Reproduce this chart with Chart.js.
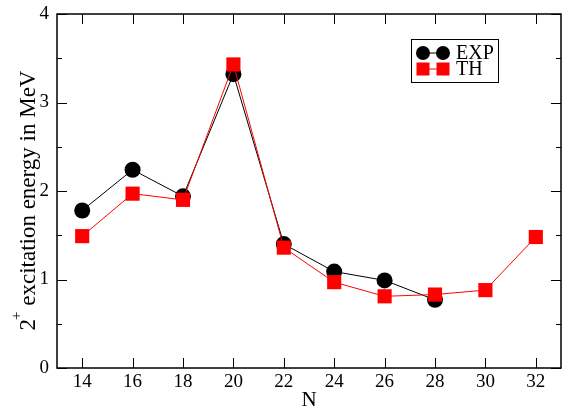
<!DOCTYPE html>
<html>
<head>
<meta charset="utf-8">
<script src="https://cdn.jsdelivr.net/npm/chart.js@4"></script>
<style>
  html, body { margin: 0; padding: 0; background: #fff; }
  #wrap { width: 562px; height: 406px; }
</style>
</head>
<body>
<div id="wrap"><canvas id="chart" width="562" height="406"></canvas></div>
<script>
  // neutron number N
  const nExp = [14, 16, 18, 20, 22, 24, 26, 28];
  const eExp = [1.78, 2.24, 1.94, 3.32, 1.40, 1.09, 0.99, 0.77];
  const nTh = [14, 16, 18, 20, 22, 24, 26, 28, 30, 32];
  const eTh = [1.49, 1.97, 1.90, 3.43, 1.36, 0.97, 0.81, 0.83, 0.88, 1.48];
  const xTicks = [14, 16, 18, 20, 22, 24, 26, 28, 30, 32];
  const yTicks = [0, 1, 2, 3, 4];
  const yMinor = [0.5, 1.5, 2.5, 3.5];

  const FONT = '"Liberation Serif", "Times New Roman", serif';
  const pts = (xs, ys) => xs.map((x, i) => ({ x, y: ys[i] }));

  // frame, inward ticks, titles, legend
  const decor = {
    id: 'decor',
    afterDraw(chart) {
      const { ctx, chartArea: a, scales: { x, y } } = chart;
      ctx.save();
      ctx.strokeStyle = '#000';
      ctx.lineWidth = 1.5;
      ctx.strokeRect(a.left, a.top, a.right - a.left, a.bottom - a.top);

      ctx.lineWidth = 1;
      ctx.beginPath();
      for (const v of xTicks) {
        const px = Math.round(x.getPixelForValue(v)) + 0.5;
        ctx.moveTo(px, a.bottom); ctx.lineTo(px, a.bottom - 10);
        ctx.moveTo(px, a.top); ctx.lineTo(px, a.top + 10);
      }
      for (const v of yTicks) {
        const py = Math.round(y.getPixelForValue(v)) + 0.5;
        ctx.moveTo(a.left, py); ctx.lineTo(a.left + 10, py);
        ctx.moveTo(a.right, py); ctx.lineTo(a.right - 10, py);
      }
      for (const v of yMinor) {
        const py = Math.round(y.getPixelForValue(v)) + 0.5;
        ctx.moveTo(a.left, py); ctx.lineTo(a.left + 5, py);
        ctx.moveTo(a.right, py); ctx.lineTo(a.right - 5, py);
      }
      ctx.stroke();

      // axis titles
      ctx.fillStyle = '#000';
      ctx.font = '21px ' + FONT;
      ctx.textAlign = 'center';
      ctx.textBaseline = 'alphabetic';
      ctx.fillText('N', (a.left + a.right) / 2, 406);

      ctx.save();
      ctx.translate(35, 200);
      ctx.rotate(-Math.PI / 2);
      const main = ' excitation energy in MeV';
      ctx.font = '23px ' + FONT;
      const w2 = ctx.measureText('2').width;
      const wm = ctx.measureText(main).width;
      ctx.font = '15px ' + FONT;
      const wp = ctx.measureText('+').width;
      const total = w2 + wp + wm;
      let cx = -total / 2;
      ctx.textAlign = 'left';
      ctx.font = '23px ' + FONT;
      ctx.fillText('2', cx, 0); cx += w2;
      ctx.font = '15px ' + FONT;
      ctx.fillText('+', cx - 1, -14); cx += wp - 1;
      ctx.font = '23px ' + FONT;
      ctx.fillText(main, cx, 0);
      ctx.restore();

      // legend
      const lx = 411, ly = 39;
      ctx.lineWidth = 1;
      ctx.strokeRect(lx + 0.5, ly + 0.5, 87, 43);
      const rows = [
        { label: 'EXP', color: '#000', shape: 'circle', yy: ly + 14 },
        { label: 'TH', color: '#ff0000', shape: 'rect', yy: ly + 30 }
      ];
      ctx.textBaseline = 'middle';
      for (const r of rows) {
        ctx.strokeStyle = r.color;
        ctx.fillStyle = r.color;
        ctx.beginPath();
        ctx.moveTo(lx + 12, r.yy); ctx.lineTo(lx + 32, r.yy);
        ctx.stroke();
        for (const mx of [lx + 12, lx + 32]) {
          ctx.beginPath();
          if (r.shape === 'circle') {
            ctx.arc(mx, r.yy, 7, 0, Math.PI * 2);
          } else {
            ctx.rect(mx - 6.5, r.yy - 6.5, 13, 13);
          }
          ctx.fill();
        }
        ctx.fillStyle = '#000';
        ctx.font = '20px ' + FONT;
        ctx.textAlign = 'left';
        ctx.fillText(r.label, lx + 45, r.yy + 1);
      }
      ctx.restore();
    }
  };

  new Chart(document.getElementById('chart'), {
    type: 'scatter',
    data: {
      datasets: [
        {
          label: 'TH',
          data: pts(nTh, eTh),
          showLine: true,
          borderColor: '#ff0000',
          backgroundColor: '#ff0000',
          borderWidth: 1,
          pointStyle: 'rect',
          pointRadius: 10,
          pointBorderWidth: 0,
          order: 0
        },
        {
          label: 'EXP',
          data: pts(nExp, eExp),
          showLine: true,
          borderColor: '#000',
          backgroundColor: '#000',
          borderWidth: 1,
          pointStyle: 'circle',
          pointRadius: 8,
          pointBorderWidth: 0,
          order: 1
        }
      ]
    },
    options: {
      responsive: false,
      animation: false,
      layout: { autoPadding: false, padding: { top: 14, right: 1, left: 0, bottom: 0 } },
      plugins: { legend: { display: false }, tooltip: { enabled: false } },
      scales: {
        x: {
          type: 'linear',
          min: 13, max: 33,
          afterBuildTicks: (s) => { s.ticks = xTicks.map(v => ({ value: v })); },
          afterFit: (s) => { s.height = 38; s.paddingLeft = 0; s.paddingRight = 0; },
          grid: { display: false, drawTicks: false },
          border: { display: false },
          ticks: { color: '#000', font: { family: FONT, size: 19 }, padding: 3, maxRotation: 0 }
        },
        y: {
          type: 'linear',
          min: 0, max: 4,
          afterBuildTicks: (s) => { s.ticks = yTicks.map(v => ({ value: v })); },
          afterFit: (s) => { s.width = 57; s.paddingTop = 0; s.paddingBottom = 0; },
          grid: { display: false, drawTicks: false },
          border: { display: false },
          ticks: { color: '#000', font: { family: FONT, size: 19 }, padding: 8 }
        }
      }
    },
    plugins: [decor]
  });
</script>
</body>
</html>
